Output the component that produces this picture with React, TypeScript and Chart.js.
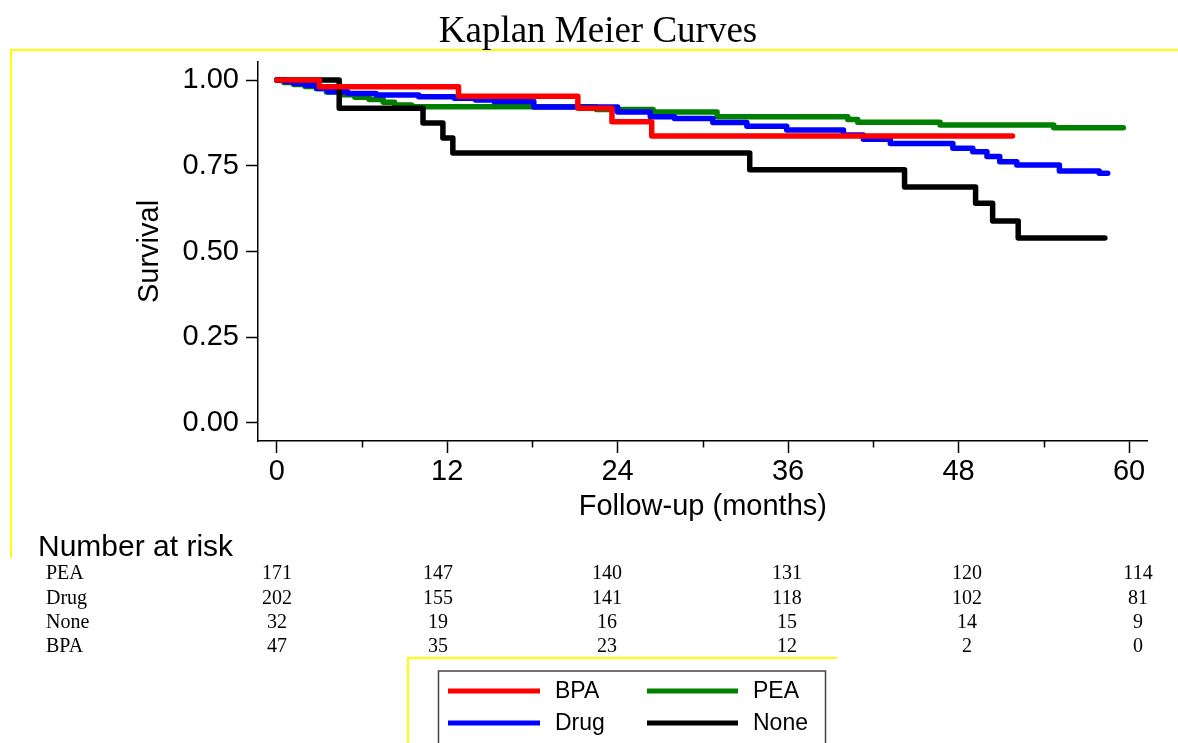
import React, { useEffect, useRef } from "react";
import { Chart, registerables } from "chart.js";

Chart.register(...registerables);

// ---------- data ----------
const seriesNames = ["BPA", "Drug", "PEA", "None"];
const seriesColors = ["#ff0000", "#0000ff", "#008000", "#000000"];

const bpaTimes = [0, 3.0, 12.8, 21.2, 23.6, 26.4, 51.8];
const bpaSurv = [1.0, 0.98, 0.953, 0.918, 0.878, 0.837, 0.837];

const drugTimes = [0, 0.6, 1.2, 2.0, 2.8, 3.6, 5.0, 7.0, 10.0, 12.5, 14.0, 15.3, 18.1, 24.0, 26.3, 28.0, 30.7, 33.1, 35.9, 39.9, 41.3, 43.2, 47.6, 49.0, 50.0, 50.9, 52.1, 55.1, 57.9, 58.5];
const drugSurv = [1.0, 0.995, 0.99, 0.985, 0.975, 0.966, 0.961, 0.956, 0.951, 0.947, 0.942, 0.937, 0.921, 0.907, 0.893, 0.888, 0.876, 0.865, 0.854, 0.84, 0.827, 0.815, 0.801, 0.791, 0.777, 0.762, 0.752, 0.735, 0.728, 0.728];

const peaTimes = [0, 0.5, 1.2, 2.0, 2.8, 3.5, 4.5, 5.5, 6.5, 7.5, 8.3, 9.5, 22.5, 26.5, 31.0, 40.2, 40.9, 46.7, 54.7, 59.6];
const peaSurv = [1.0, 0.993, 0.987, 0.981, 0.975, 0.965, 0.957, 0.95, 0.943, 0.935, 0.927, 0.922, 0.914, 0.907, 0.893, 0.885, 0.877, 0.869, 0.861, 0.861];

const noneTimes = [0, 4.4, 10.3, 11.7, 12.4, 33.3, 44.2, 49.2, 50.4, 52.2, 58.3];
const noneSurv = [1.0, 0.918, 0.875, 0.831, 0.787, 0.738, 0.688, 0.641, 0.589, 0.539, 0.539];

const xMajorTicks = [0, 12, 24, 36, 48, 60];
const xMinorTicks = [6, 18, 30, 42, 54];
const yTicks = [0, 0.25, 0.5, 0.75, 1.0];

const riskRowNames = ["PEA", "Drug", "None", "BPA"];
const riskPEA = [171, 147, 140, 131, 120, 114];
const riskDrug = [202, 155, 141, 118, 102, 81];
const riskNone = [32, 19, 16, 15, 14, 9];
const riskBPA = [47, 35, 23, 12, 2, 0];

const chartTitle = "Kaplan Meier Curves";
const xTitle = "Follow-up (months)";
const yTitle = "Survival";
const riskTitle = "Number at risk";

// ---------- layout ----------
const W = 1178;
const H = 743;
const SANS = '"Liberation Sans", Arial, Helvetica, sans-serif';
const SERIF = '"Liberation Serif", "Times New Roman", serif';
const riskColX = [277, 438, 607, 787, 967, 1138];
const riskRowY = [579, 603.5, 628, 652];

function toPoints(t: number[], s: number[]) {
  return t.map((x, i) => ({ x, y: s[i] }));
}

const decorPlugin = {
  id: "decor",
  afterDraw(chart: any) {
    const ctx = chart.ctx as CanvasRenderingContext2D;
    const xs = chart.scales.x;
    const area = chart.chartArea;
    ctx.save();

    // yellow frame lines
    ctx.strokeStyle = "#ffff00";
    ctx.lineWidth = 2;
    ctx.beginPath();
    ctx.moveTo(11, 558);
    ctx.lineTo(11, 50);
    ctx.lineTo(W, 50);
    ctx.moveTo(408, H);
    ctx.lineTo(408, 658);
    ctx.lineTo(837, 658);
    ctx.stroke();

    // title
    ctx.fillStyle = "#000";
    ctx.font = `37px ${SERIF}`;
    ctx.textAlign = "center";
    ctx.textBaseline = "alphabetic";
    ctx.fillText(chartTitle, 598, 42);

    // minor x ticks
    ctx.strokeStyle = "#000";
    ctx.lineWidth = 1.5;
    ctx.beginPath();
    xMinorTicks.forEach((v) => {
      const px = Math.round(xs.getPixelForValue(v)) + 0.5;
      ctx.moveTo(px, area.bottom);
      ctx.lineTo(px, area.bottom + 6.5);
    });
    ctx.stroke();

    // number at risk table
    ctx.textAlign = "left";
    ctx.font = `30px ${SANS}`;
    ctx.fillText(riskTitle, 38, 556);
    const rows = [riskPEA, riskDrug, riskNone, riskBPA];
    ctx.font = `20px ${SERIF}`;
    riskRowNames.forEach((name, r) => {
      ctx.textAlign = "left";
      ctx.fillText(name, 46, riskRowY[r]);
      ctx.textAlign = "center";
      rows[r].forEach((n, c) => ctx.fillText(String(n), riskColX[c], riskRowY[r]));
    });

    // legend
    ctx.strokeStyle = "#444";
    ctx.lineWidth = 1.5;
    ctx.strokeRect(438.5, 671, 387, 120);
    const legendOrder = [
      [0, 448, 540, 555, 691],
      [2, 647, 738, 753, 691],
      [1, 448, 540, 555, 723],
      [3, 647, 738, 753, 723],
    ];
    ctx.font = `23px ${SANS}`;
    ctx.textAlign = "left";
    ctx.textBaseline = "middle";
    legendOrder.forEach(([i, x0, x1, tx, y]) => {
      ctx.strokeStyle = seriesColors[i];
      ctx.lineWidth = 5;
      ctx.lineCap = "butt";
      ctx.beginPath();
      ctx.moveTo(x0, y);
      ctx.lineTo(x1, y);
      ctx.stroke();
      ctx.fillStyle = "#000";
      ctx.fillText(seriesNames[i], tx, y + 1);
    });

    ctx.restore();
  },
};

export default function App() {
  const ref = useRef<HTMLCanvasElement | null>(null);

  useEffect(() => {
    if (!ref.current) return;
    const series = [
      toPoints(bpaTimes, bpaSurv),
      toPoints(drugTimes, drugSurv),
      toPoints(peaTimes, peaSurv),
      toPoints(noneTimes, noneSurv),
    ];
    const drawOrder = [0, 2, 3, 1];
    const chart = new Chart(ref.current, {
      type: "line",
      data: {
        datasets: series.map((d, i) => ({
          label: seriesNames[i],
          data: d,
          borderColor: seriesColors[i],
          backgroundColor: seriesColors[i],
          borderWidth: 5.5,
          stepped: true,
          pointRadius: 0,
          fill: false,
          borderCapStyle: "round",
          borderJoinStyle: "round",
          order: drawOrder[i],
        })),
      },
      options: {
        responsive: false,
        animation: false,
        events: [],
        layout: { padding: { top: 62, left: 0, right: 30.3, bottom: 212 } },
        plugins: {
          legend: { display: false },
          tooltip: { enabled: false },
          title: { display: false },
        },
        scales: {
          x: {
            type: "linear",
            min: -1.316,
            max: 61.316,
            afterBuildTicks: (s: any) => {
              s.ticks = xMajorTicks.map((v) => ({ value: v }));
            },
            afterFit: (s: any) => {
              s.height = 90;
            },
            ticks: {
              color: "#000",
              font: { family: SANS, size: 29 },
              padding: 2,
              maxRotation: 0,
              autoSkip: false,
              callback: (v: any) => String(v),
            },
            grid: {
              display: true,
              drawOnChartArea: false,
              drawTicks: true,
              tickLength: 12,
              tickWidth: 1.5,
              tickColor: "#000",
            },
            border: { display: true, color: "#000", width: 1.5 },
            title: {
              display: true,
              text: xTitle,
              color: "#000",
              font: { family: SANS, size: 29 },
              padding: { top: 0, bottom: 6.6 },
            },
          },
          y: {
            type: "linear",
            min: -0.0525,
            max: 1.0525,
            afterBuildTicks: (s: any) => {
              s.ticks = yTicks.map((v) => ({ value: v }));
            },
            afterFit: (s: any) => {
              s.width = 258;
            },
            ticks: {
              color: "#000",
              font: { family: SANS, size: 29 },
              padding: 7,
              autoSkip: false,
              callback: (v: any) => Number(v).toFixed(2),
            },
            grid: {
              display: true,
              drawOnChartArea: false,
              drawTicks: true,
              tickLength: 12,
              tickWidth: 1.5,
              tickColor: "#000",
            },
            border: { display: true, color: "#000", width: 1.5 },
            title: {
              display: true,
              text: yTitle,
              color: "#000",
              font: { family: SANS, size: 29 },
              padding: { top: 132.5, bottom: 0 },
            },
          },
        },
      } as any,
      plugins: [decorPlugin],
    });
    return () => chart.destroy();
  }, []);

  return (
    <div style={{ position: "absolute", left: 0, top: 0, width: W, height: H, background: "#fff" }}>
      <canvas ref={ref} width={W} height={H} style={{ width: W, height: H, display: "block" }} />
    </div>
  );
}
